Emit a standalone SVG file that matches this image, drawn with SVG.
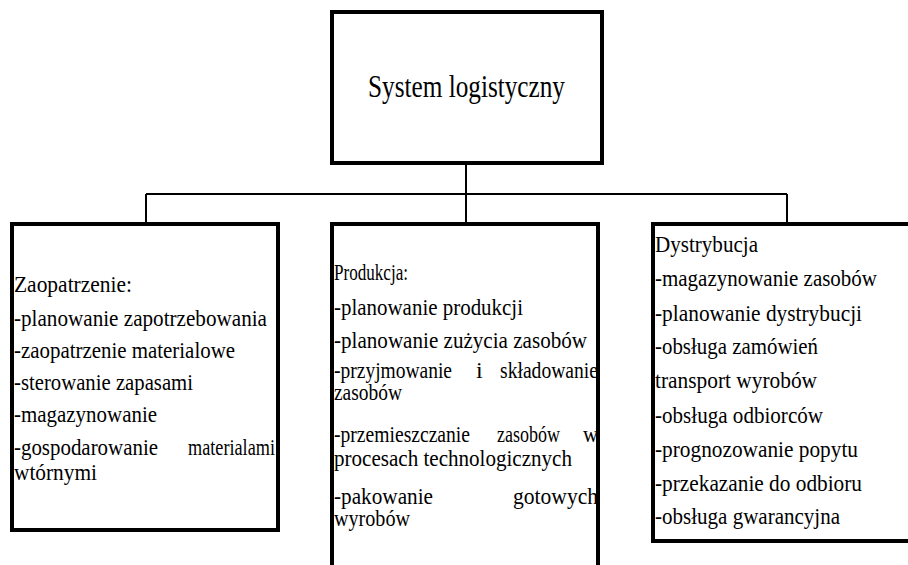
<svg xmlns="http://www.w3.org/2000/svg" width="908" height="565" viewBox="0 0 908 565" font-family="'Liberation Serif', 'Times New Roman', serif">
<style>
.box{fill:#fff;stroke:#000;stroke-width:4}
.con{fill:none;stroke:#000;stroke-width:2}
.t, .t text{font-family:"Liberation Serif","Times New Roman",serif;font-size:24px;fill:#000}
.h{font-family:"Liberation Serif","Times New Roman",serif;font-size:31px;fill:#000}
</style>
<rect x="0" y="0" width="908" height="565" fill="#fff"/>
<g id="connectors">
<path class="con" d="M466,163 V224 M146,194 H787 M146,194 V224 M787,194 V224"/>
</g>
<g id="node-system">
<rect class="box" x="332" y="12" width="270" height="151"/>
<text class="h" x="368" y="97" textLength="197" lengthAdjust="spacingAndGlyphs">System logistyczny</text>
</g>
<g id="node-zaopatrzenie">
<rect class="box" x="12" y="224" width="266" height="306"/>
<g class="t">
<text x="14" y="292" textLength="118" lengthAdjust="spacingAndGlyphs">Zaopatrzenie:</text>
<text x="14" y="326" textLength="253" lengthAdjust="spacingAndGlyphs">-planowanie zapotrzebowania</text>
<text x="14" y="358" textLength="221" lengthAdjust="spacingAndGlyphs">-zaopatrzenie materialowe</text>
<text x="14" y="390" textLength="179" lengthAdjust="spacingAndGlyphs">-sterowanie zapasami</text>
<text x="14" y="422" textLength="143" lengthAdjust="spacingAndGlyphs">-magazynowanie</text>
<text x="14" y="455" textLength="144" lengthAdjust="spacingAndGlyphs">-gospodarowanie</text>
<text x="188" y="455" textLength="87" lengthAdjust="spacingAndGlyphs">materialami</text>
<text x="14" y="480" textLength="83" lengthAdjust="spacingAndGlyphs">wtórnymi</text>
</g>
</g>
<g id="node-produkcja">
<rect class="box" x="332" y="224" width="266" height="400"/>
<g class="t">
<text x="334" y="280" textLength="74" lengthAdjust="spacingAndGlyphs">Produkcja:</text>
<text x="334" y="315" textLength="189" lengthAdjust="spacingAndGlyphs">-planowanie produkcji</text>
<text x="334" y="348" textLength="253" lengthAdjust="spacingAndGlyphs">-planowanie zużycia zasobów</text>
<text x="334" y="378" textLength="118" lengthAdjust="spacingAndGlyphs">-przyjmowanie</text>
<text x="476" y="378">i</text>
<text x="500" y="378" textLength="98" lengthAdjust="spacingAndGlyphs">składowanie</text>
<text x="334" y="400" textLength="68" lengthAdjust="spacingAndGlyphs">zasobów</text>
<text x="334" y="442" textLength="136" lengthAdjust="spacingAndGlyphs">-przemieszczanie</text>
<text x="497" y="442" textLength="63" lengthAdjust="spacingAndGlyphs">zasobów</text>
<text x="583" y="442" textLength="15" lengthAdjust="spacingAndGlyphs">w</text>
<text x="334" y="466" textLength="238" lengthAdjust="spacingAndGlyphs">procesach technologicznych</text>
<text x="334" y="504" textLength="99" lengthAdjust="spacingAndGlyphs">-pakowanie</text>
<text x="513" y="504" textLength="85" lengthAdjust="spacingAndGlyphs">gotowych</text>
<text x="334" y="526" textLength="76" lengthAdjust="spacingAndGlyphs">wyrobów</text>
</g>
</g>
<g id="node-dystrybucja">
<rect class="box" x="653" y="224" width="300" height="317"/>
<g class="t">
<text x="655" y="252" textLength="103" lengthAdjust="spacingAndGlyphs">Dystrybucja</text>
<text x="655" y="286" textLength="222" lengthAdjust="spacingAndGlyphs">-magazynowanie zasobów</text>
<text x="655" y="321" textLength="207" lengthAdjust="spacingAndGlyphs">-planowanie dystrybucji</text>
<text x="655" y="354" textLength="163" lengthAdjust="spacingAndGlyphs">-obsługa zamówień</text>
<text x="655" y="388" textLength="162" lengthAdjust="spacingAndGlyphs">transport wyrobów</text>
<text x="655" y="423" textLength="168" lengthAdjust="spacingAndGlyphs">-obsługa odbiorców</text>
<text x="655" y="457" textLength="203" lengthAdjust="spacingAndGlyphs">-prognozowanie popytu</text>
<text x="655" y="491" textLength="207" lengthAdjust="spacingAndGlyphs">-przekazanie do odbioru</text>
<text x="655" y="524" textLength="185" lengthAdjust="spacingAndGlyphs">-obsługa gwarancyjna</text>
</g>
</g>
</svg>
